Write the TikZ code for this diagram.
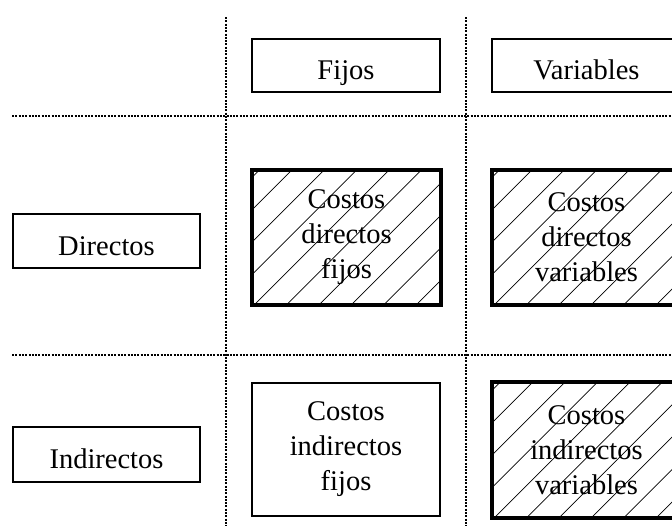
\documentclass[tikz,border=0pt]{standalone}
\usepackage{fontspec}
\setmainfont{Liberation Serif}
\begin{document}
\begin{tikzpicture}[x=1pt,y=-1pt,
  every node/.style={font=\fontsize{28.5}{35}\selectfont, align=center, inner sep=0pt},
  % single-line header boxes: baseline sits a little below the middle
  headbox/.style={draw, line width=1.8pt, rectangle, text height=30pt, text depth=2pt},
  cellbox/.style={draw, line width=1.8pt, rectangle, minimum width=188pt, minimum height=133pt},
  % diagonal hatching clipped to the node outline
  hatch/.style={path picture={
      \foreach \k in {-6,...,7}
        \draw[line width=0.7pt]
          ([xshift=\k*32.4pt+2pt]path picture bounding box.south west) -- ++(300pt,300pt);
    }},
  heavybox/.style={draw, line width=3.8pt, rectangle, hatch, minimum width=189pt, minimum height=135pt},
  sepline/.style={line width=2.2pt, dash pattern=on 2pt off 1.3pt}
]
\useasboundingbox (0,0) rectangle (672,525);
\clip (0,0) rectangle (672,525);

% dotted grid separators
\coordinate (v1top) at (226,17);
\coordinate (v1bot) at (226,530);
\coordinate (v2top) at (466,17);
\coordinate (v2bot) at (466,530);
\coordinate (h1left) at (12,116);
\coordinate (h1right) at (680,116);
\coordinate (h2left) at (12,355);
\coordinate (h2right) at (680,355);
\draw[sepline] (v1top) -- (v1bot);
\draw[sepline] (v2top) -- (v2bot);
\draw[sepline] (h1left) -- (h1right);
\draw[sepline] (h2left) -- (h2right);

% column headers
\node[headbox, minimum width=188pt, minimum height=53pt] (fijos) at (346,65.5) {Fijos};
\node[headbox, minimum width=189pt, minimum height=53pt] (variables) at (586.5,65.5) {Variables};

% row headers
\node[headbox, minimum width=187pt, minimum height=54pt] (directos) at (106.5,241) {Directos};
\node[headbox, minimum width=187pt, minimum height=55pt] (indirectos) at (106.5,454.5) {Indirectos};

% cost cells
\node[heavybox] (cdf) at (346.5,237.5) {Costos\\directos\\fijos};
\node[heavybox] (cdv) at (586.5,237.5) {Costos\\directos\\variables};
\node[cellbox] (cif) at (346,449.5) {Costos\\indirectos\\fijos};
\node[heavybox, minimum height=136pt] (civ) at (586.5,450) {Costos\\indirectos\\variables};
\end{tikzpicture}
\end{document}
